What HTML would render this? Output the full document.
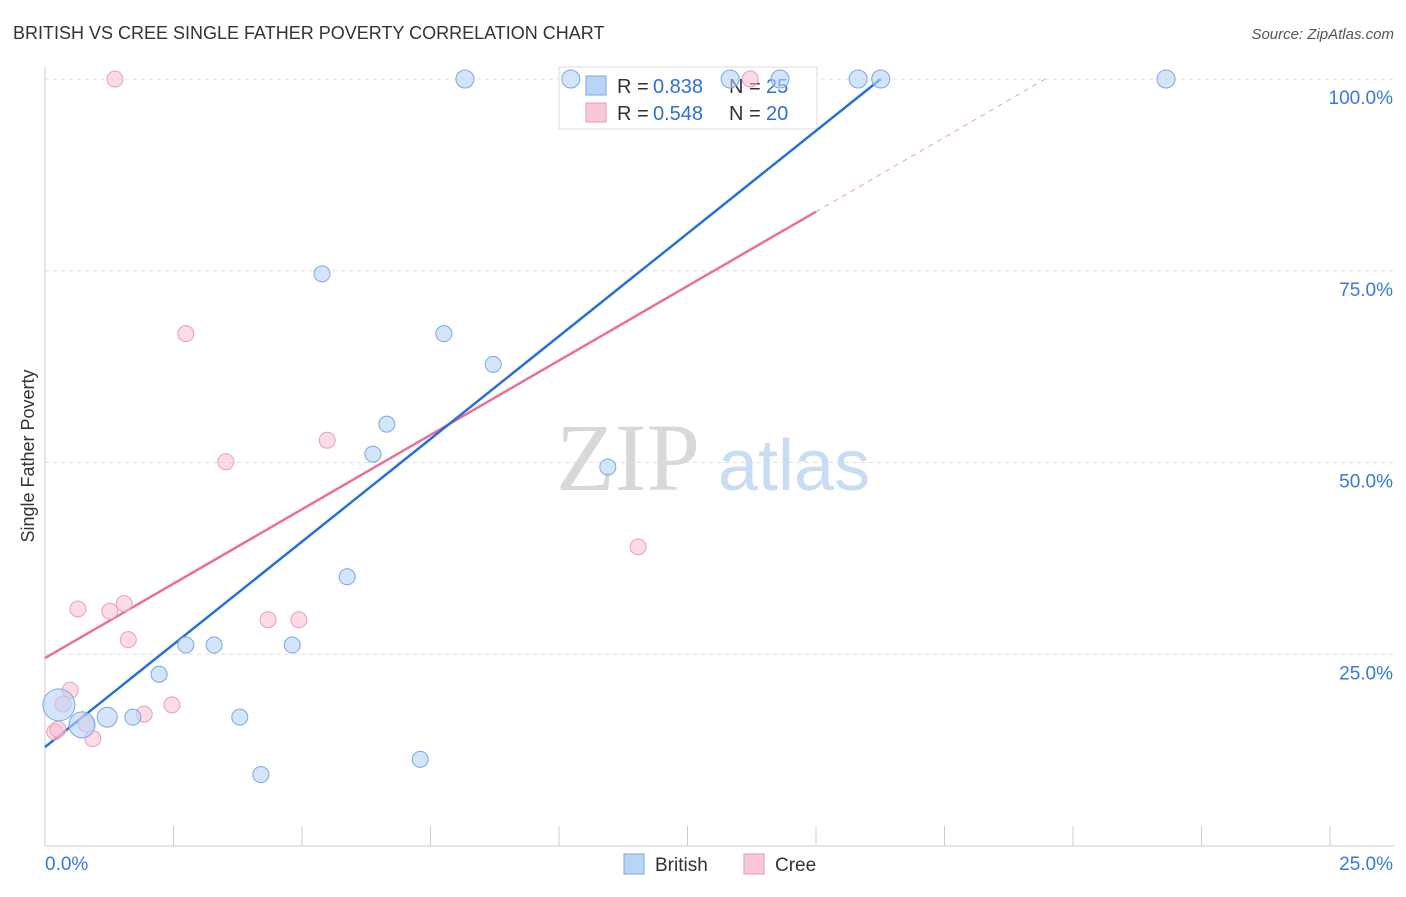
<!DOCTYPE html>
<html><head><meta charset="utf-8"><style>
body{margin:0;background:#fff;font-family:"Liberation Sans",sans-serif;}
</style></head><body>
<svg width="1406" height="892" xmlns="http://www.w3.org/2000/svg">
<text x="13" y="39" font-size="18" fill="#333">BRITISH VS CREE SINGLE FATHER POVERTY CORRELATION CHART</text>
<text x="1394" y="39" font-size="15" fill="#555" text-anchor="end" font-style="italic">Source: ZipAtlas.com</text>
<text x="556" y="490" font-size="96" fill="#d8d8d8" font-family="Liberation Serif,serif">ZIP</text>
<text x="718" y="490" font-size="72" fill="#c8dcf2">atlas</text>
<text transform="translate(34,456) rotate(-90)" font-size="18" fill="#333" text-anchor="middle">Single Father Poverty</text>
<g id="grid"></g><g id="axes"></g>
<g>
<rect x="559" y="67" width="258" height="62" fill="#fff" stroke="#ddd"/>
<rect x="586" y="76" width="20" height="19" fill="#b9d4f5" stroke="#7aa8e0"/>
<text x="617" y="93" font-size="20" fill="#333">R =</text>
<text x="653" y="93" font-size="20" fill="#2f6fd8">0.838</text>
<text x="729" y="93" font-size="20" fill="#333">N =</text>
<text x="766" y="93" font-size="20" fill="#2f6fd8">25</text>
<rect x="586" y="103" width="20" height="19" fill="#f8c8d6" stroke="#e89ab2"/>
<text x="617" y="120" font-size="20" fill="#333">R =</text>
<text x="653" y="120" font-size="20" fill="#2f6fd8">0.548</text>
<text x="729" y="120" font-size="20" fill="#333">N =</text>
<text x="766" y="120" font-size="20" fill="#2f6fd8">20</text>
</g>
<g id="lines"></g><g id="pts"></g>
<g>
<rect x="624" y="854" width="20" height="20" fill="#b9d4f5" stroke="#7aa8e0"/>
<text x="655" y="871" font-size="19" fill="#333">British</text>
<rect x="744" y="854" width="20" height="20" fill="#f8c8d6" stroke="#e89ab2"/>
<text x="775" y="871" font-size="19" fill="#333">Cree</text>
</g>
</svg>
<script>
const yTicks=[25,50,75,100];
const yTickLabels=["25.0%","50.0%","75.0%","100.0%"];
const xTickCount=10;
const britishX=[10.23,8.17,13.33,14.3,15.82,16.26,21.81,5.39,7.76,8.72,6.65,6.38,10.95,5.88,2.74,3.29,4.81,2.22,1.21,1.71,3.79,7.30,4.20,0.27,0.72];
const britishY=[100,100,100,100,100,100,100,74.6,66.8,62.8,55.0,51.1,49.4,35.1,26.2,26.2,26.2,22.4,16.8,16.8,16.8,11.3,9.3,18.4,15.8];
const britishR=[9,9,9,9,9,9,9,8,8,8,8,8,8,8,8,8,8,8,10,8,8,8,8,16,13];
const creeX=[1.36,13.72,2.74,3.52,5.49,11.54,0.64,1.26,1.54,1.62,4.34,4.94,0.49,0.35,2.47,1.93,0.19,0.93,0.8,0.25];
const creeY=[100,100,66.8,50.1,52.9,39.0,30.9,30.6,31.6,26.9,29.5,29.5,20.3,18.5,18.4,17.2,14.9,14.0,15.9,15.2];
const britishLine=[[0,12.9],[16.26,100]];
const creeLine=[[0,24.5],[15,82.7]];
const creeDash=[[15,82.7],[19.46,100]];
const X=v=>45+v*(1330-45)/25, Y=v=>846-v*(846-79)/100;
const NS="http://www.w3.org/2000/svg";
function mk(t,a,p){const e=document.createElementNS(NS,t);for(const k in a)e.setAttribute(k,a[k]);document.getElementById(p).appendChild(e);return e;}
yTicks.forEach((t,i)=>{
 const g=mk('line',{x1:45,x2:1394,y1:Y(t),y2:Y(t),stroke:'#ddd','stroke-dasharray':'4,4'},'grid');
 
 
 const l=mk('text',{x:1393,y:Y(t)+25,'font-size':19,fill:'#3a78d8','text-anchor':'end'},'grid');
 l.textContent=yTickLabels[i];
 
 
});
const ax=mk('line',{x1:45,x2:45,y1:67,y2:846,stroke:'#ccc'},'axes');


const bx=mk('line',{x1:45,x2:1394,y1:846,y2:846,stroke:'#ccc'},'axes');


for(let i=0;i<=xTickCount;i++){const t=mk('line',{x1:X(i*2.5),x2:X(i*2.5),y1:826,y2:846,stroke:'#ccc'},'axes');
 
 }
const x0=mk('text',{x:45,y:870,'font-size':19,fill:'#3a78d8'},'axes');x0.textContent='0.0%';


const x1=mk('text',{x:1393,y:870,'font-size':19,fill:'#3a78d8','text-anchor':'end'},'axes');x1.textContent='25.0%';


function ln(p,c,d,n){const e=mk('line',{x1:X(p[0][0]),y1:Y(p[0][1]),x2:X(p[1][0]),y2:Y(p[1][1]),stroke:c,'stroke-width':d?1:2.5,'stroke-dasharray':d?'5,5':'none'},'lines');
 
 }
ln(creeLine,'#e8709a',false,'cree-trendline');
ln(creeDash,'#e8a0b8',true,'cree-trendline-extension');
ln(britishLine,'#2a6fd8',false,'british-trendline');
creeX.forEach((v,i)=>{const c=mk('circle',{cx:X(v),cy:Y(creeY[i]),r:8,fill:'rgba(248,190,208,0.55)',stroke:'#e8a0b8'},'pts');
 
 });
britishX.forEach((v,i)=>{const c=mk('circle',{cx:X(v),cy:Y(britishY[i]),r:britishR[i],fill:'rgba(185,212,245,0.6)',stroke:'#7aa8e0'},'pts');
 
 });
</script>
</body></html>
